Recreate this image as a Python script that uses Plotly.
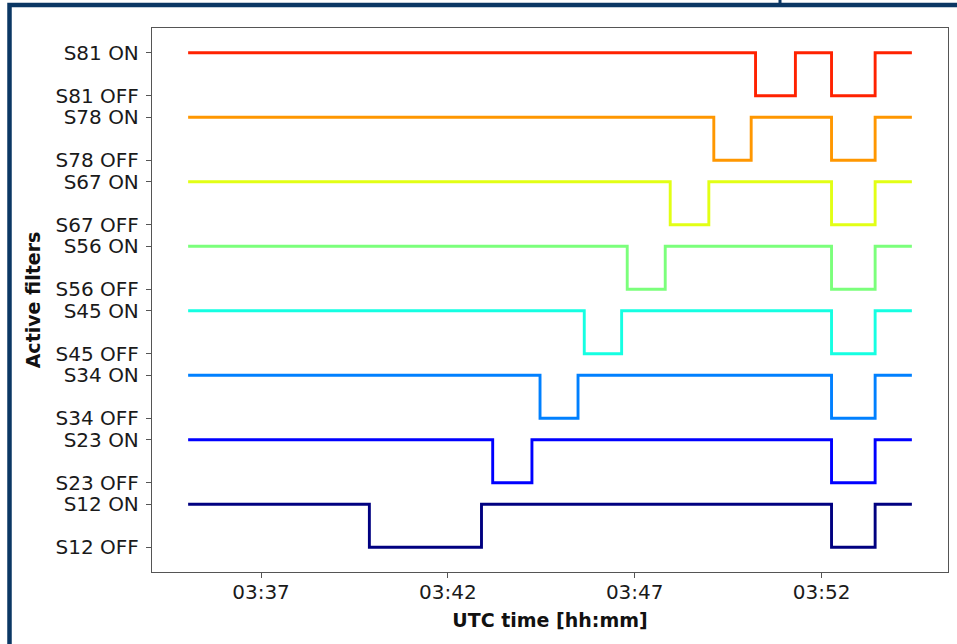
import plotly.graph_objects as go
import pandas as pd

# ---- data ----
DAY = "2000-01-01 "
filters = ["S12", "S23", "S34", "S45", "S56", "S67", "S78", "S81"]
colors = ["#000080", "#0000ff", "#0080ff", "#15ffe2",
          "#7bff7b", "#e2ff15", "#ff9700", "#ff2200"]
start_time = "03:35:03"
end_time = "03:54:25"
first_off = ["03:39:54", "03:43:12", "03:44:28", "03:45:39",
             "03:46:48", "03:47:57", "03:49:07", "03:50:14"]
first_on = ["03:42:54", "03:44:15", "03:45:29", "03:46:39",
            "03:47:49", "03:48:59", "03:50:07", "03:51:18"]
common_off = "03:52:16"
common_on = "03:53:26"
off_levels = [0, 3, 6, 9, 12, 15, 18, 21]
on_levels = [2, 5, 8, 11, 14, 17, 20, 23]
ytick_vals = [0, 2, 3, 5, 6, 8, 9, 11, 12, 14, 15, 17, 18, 20, 21, 23]
ytick_labels = ["S12 OFF", "S12 ON", "S23 OFF", "S23 ON", "S34 OFF", "S34 ON",
                "S45 OFF", "S45 ON", "S56 OFF", "S56 ON", "S67 OFF", "S67 ON",
                "S78 OFF", "S78 ON", "S81 OFF", "S81 ON"]
xtick_times = ["03:37", "03:42", "03:47", "03:52"]
xtick_labels = ["03:37", "03:42", "03:47", "03:52"]

FONT = "DejaVu Sans"
fig = go.Figure()

for name, col, t_off, t_on, lo, hi in zip(filters, colors, first_off, first_on,
                                          off_levels, on_levels):
    times = [start_time, t_off, t_on, common_off, common_on, end_time]
    levels = [hi, lo, hi, lo, hi, hi]
    fig.add_trace(go.Scatter(
        x=[DAY + t for t in times], y=levels, mode="lines", name=name,
        line=dict(color=col, width=2.9, shape="hv"), showlegend=False))

# x range with 5% padding (matplotlib default margins)
t0 = pd.Timestamp(DAY + start_time)
t1 = pd.Timestamp(DAY + end_time)
pad = (t1 - t0) * 0.05
ymin, ymax = min(off_levels), max(on_levels)
ypad = (ymax - ymin) * 0.05

axis_common = dict(showline=True, linecolor="#555555", linewidth=1.3, mirror=True,
                   ticks="outside", ticklen=5, tickwidth=1.1, tickcolor="#555555",
                   showgrid=False, zeroline=False,
                   tickfont=dict(family=FONT, size=20, color="#1a1a1a"))

fig.update_layout(
    width=957, height=644,
    margin=dict(l=152, r=9, t=28, b=72, autoexpand=False),
    plot_bgcolor="white", paper_bgcolor="white",
    xaxis=dict(range=[t0 - pad, t1 + pad],
               tickvals=[DAY + t for t in xtick_times], ticktext=xtick_labels,
               ticklabelstandoff=-3,
               title=dict(text="<b>UTC time [hh:mm]</b>", standoff=10,
                          font=dict(family=FONT, size=19, color="#111111")),
               automargin=False, **axis_common),
    yaxis=dict(range=[ymin - ypad, ymax + ypad],
               tickvals=ytick_vals, ticktext=ytick_labels,
               ticklabelstandoff=3,
               title=dict(text="<b>Active filters</b>", standoff=9,
                          font=dict(family=FONT, size=19, color="#111111")),
               automargin=False, **axis_common),
    shapes=[
        dict(type="rect", xref="paper", yref="paper",
             x0=(9.5 - 152) / 796, x1=(1100 - 152) / 796,
             y0=(572 - 800) / 544, y1=(572 - 5) / 544,
             line=dict(color="#0b3764", width=4.5), fillcolor="rgba(0,0,0,0)"),
        dict(type="line", xref="paper", yref="paper",
             x0=(780 - 152) / 796, x1=(780 - 152) / 796,
             y0=(572 - 5) / 544, y1=(572 + 2) / 544,
             line=dict(color="#0b3764", width=3)),
    ],
)

fig.write_html("out.html")
